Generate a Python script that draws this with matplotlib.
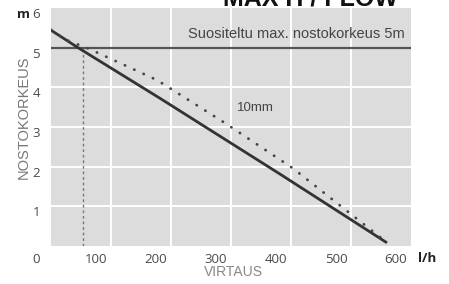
import matplotlib
matplotlib.use("Agg")
import matplotlib.pyplot as plt
import matplotlib.transforms as mtransforms

# Data
solid_x = [0, 45, 182, 382, 560]
solid_y = [5.44, 5.0, 3.72, 1.81, 0.08]
dotted_x = [0, 23, 65, 177, 290, 403, 548, 555]
dotted_y = [5.45, 5.21, 4.96, 4.18, 3.10, 1.96, 0.23, 0.15]
limit_y = 5
marker_x = 53
x_ticks = [0, 100, 200, 300, 400, 500, 600]
y_ticks = [1, 2, 3, 4, 5, 6]
title = "MAX H / FLOW"
limit_text = "Suositeltu max. nostokorkeus 5m"
series_label = "10mm"

W, H = 449, 284
fig = plt.figure(figsize=(W / 100, H / 100), dpi=100)
ax = fig.add_axes([51 / W, 1 - 246 / H, 360 / W, 238 / H])
ax.set_facecolor("#dcdcdc")
ax.set_xlim(0, 600)
ax.set_ylim(0, 6)
for s in ax.spines.values():
    s.set_visible(False)

# grid
for v in [100, 200, 300, 400, 500]:
    ax.axvline(v, color="white", lw=1.4, zorder=1)
for v in [1, 2, 3, 4]:
    ax.axhline(v, color="white", lw=1.4, zorder=1)

ax.axhline(limit_y, color="#555555", lw=1.6, zorder=3)
ax.plot([marker_x, marker_x], [0, limit_y], color="#777777", lw=1.0,
        ls=(0, (2, 2)), zorder=2)
ax.plot(solid_x, solid_y, color="#333333", lw=2.0, zorder=4,
        solid_capstyle="butt")
ax.plot(dotted_x, dotted_y, color="#444444", lw=2.0, ls=(0, (0.1, 3.6)),
        dash_capstyle="round", zorder=4)

ax.text((405 - 51) / 0.6, 5.35, limit_text, ha="right",
        va="center", fontsize=10.5, color="#444444", family="Liberation Sans")
ax.text((255 - 51) / 0.6, (246 - 108) / 39.7, series_label,
        ha="center", va="center", fontsize=9.5, color="#444444",
        family="Liberation Sans")

# ticks
ax.set_xticks(x_ticks)
ax.set_xticklabels([str(v) for v in x_ticks])
ax.set_yticks(y_ticks)
ax.set_yticklabels([str(v) for v in y_ticks])
ax.tick_params(length=0, labelsize=9.5, labelcolor="#4a4a4a")
ax.tick_params(axis="x", pad=5)
ax.tick_params(axis="y", pad=8)
for lab in ax.get_xticklabels():
    lab.set_family("Open Sans")
    lab.set_transform(lab.get_transform() +
                      mtransforms.ScaledTranslation(-15 / 100, 0, fig.dpi_scale_trans))
for lab in ax.get_yticklabels():
    lab.set_family("Open Sans")
    lab.set_transform(lab.get_transform() +
                      mtransforms.ScaledTranslation(0, -5 / 100, fig.dpi_scale_trans))

fig.text(23 / W, 1 - 14 / H, "m", ha="center", va="center", fontsize=9.5,
         fontweight="bold", color="#222222", family="Open Sans")
fig.text(427 / W, 1 - 258 / H, "l/h", ha="center", va="center", fontsize=9.5,
         fontweight="bold", color="#222222", family="Open Sans")
fig.text(233 / W, 1 - 272 / H, "VIRTAUS", ha="center", va="center",
         fontsize=10, color="#888888", family="Liberation Sans")
fig.text(24 / W, 1 - 117 / H, "NOSTOKORKEUS", ha="center", va="center",
         rotation=90, fontsize=10.5, color="#777777", family="Liberation Sans")
fig.text(310 / W, 1 - 5 / H, title, ha="center", va="baseline", fontsize=18,
         fontweight="bold", color="#111111", family="Liberation Sans")

fig.savefig("out.png", dpi=100)
